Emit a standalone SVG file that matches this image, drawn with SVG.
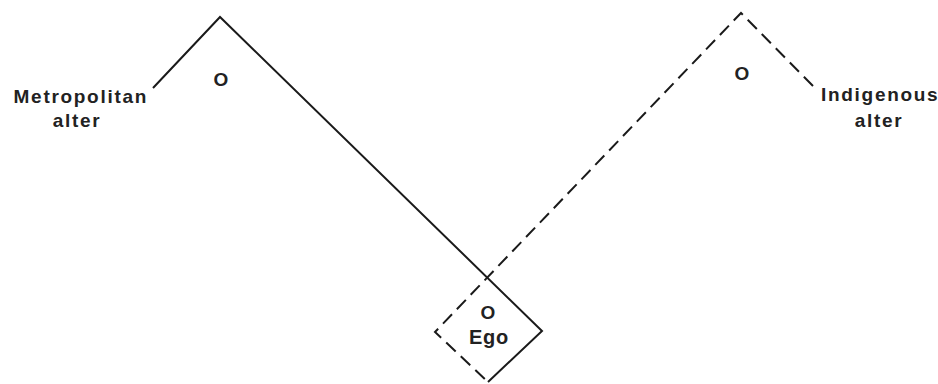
<svg xmlns="http://www.w3.org/2000/svg" width="938" height="384" viewBox="0 0 938 384">
<style>
text{font-family:"Liberation Sans",Arial,sans-serif;font-weight:bold;fill:#222;}
.lbl{font-size:19px;letter-spacing:1.7px;}
.o{font-size:19px;text-anchor:middle;}
.solid{fill:none;stroke:#1a1a1a;stroke-width:2;stroke-linejoin:miter;}
.dash{fill:none;stroke:#1a1a1a;stroke-width:2;stroke-dasharray:13 7;}
</style>
<rect width="938" height="384" fill="#ffffff"/>
<g id="connectors">
<path class="solid" d="M153,88 L220,17 L542,331 L488,382"/>
<path class="dash" d="M813,86 L741,13 L435,332 L488,382"/>
</g>
<g id="metropolitan-alter">
<text class="lbl" x="148" y="103" text-anchor="end">Metropolitan</text>
<text class="lbl" x="77" y="127" text-anchor="middle">alter</text>
<text class="o" x="221" y="86">O</text>
</g>
<g id="indigenous-alter">
<text class="lbl" x="821" y="101">Indigenous</text>
<text class="lbl" x="879" y="127" text-anchor="middle">alter</text>
<text class="o" x="742" y="80">O</text>
</g>
<g id="ego">
<text class="o" x="488" y="319">O</text>
<text class="o" x="489" y="344" style="font-size:20px;letter-spacing:0.8px">Ego</text>
</g>
</svg>
